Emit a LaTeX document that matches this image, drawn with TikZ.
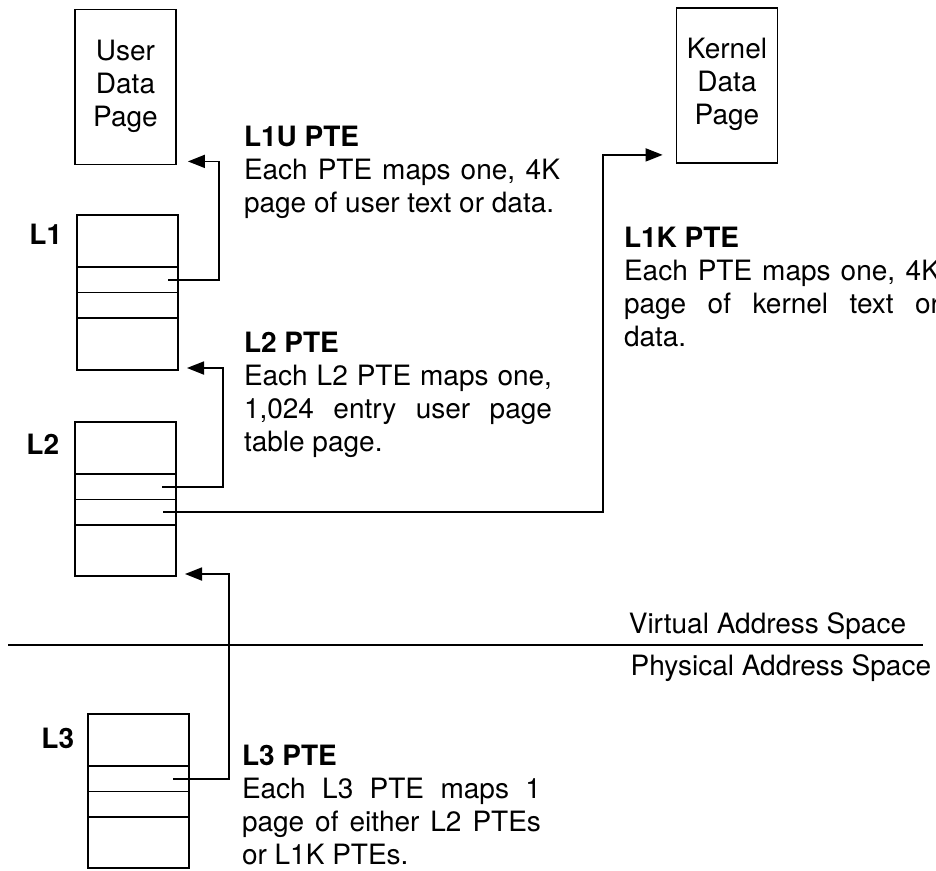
\documentclass[tikz,border=0pt]{standalone}
\usepackage{fontspec}
\setmainfont{TeX Gyre Heros}
\usetikzlibrary{positioning, arrows.meta}

\newcommand{\figfont}{\fontsize{28}{33}\selectfont}

\tikzset{
  slot/.style={draw, minimum width=101pt, inner sep=0pt, outer sep=0pt},
  datapage/.style={draw, minimum width=101pt, minimum height=155pt, align=center, inner sep=0pt},
  note/.style={anchor=north west, inner sep=0pt, outer sep=0pt, align=justify, text width=#1},
  lvl/.style={anchor=north east, inner sep=0pt, font=\figfont\bfseries},
}

\begin{document}
\begin{tikzpicture}[x=1pt,y=-1pt,>={Triangle[length=17pt,width=13pt]},line width=1.8pt,
    every node/.append style={font=\figfont}]
  \useasboundingbox (0,0) rectangle (936,870);

  % data pages
  \node[datapage] (udp) at (125.5,87) {User\\Data\\Page\\[-25pt]};
  \node[datapage] (kdp) at (727,85.5) {Kernel\\Data\\Page\\[-25pt]};

  % page tables
  \node[slot, minimum height=52pt, anchor=north west] (l1a) at (77,215) {};
  \node[slot, minimum height=25.5pt, below=0pt of l1a] (l1b) {};
  \node[slot, minimum height=25.5pt, below=0pt of l1b] (l1c) {};
  \node[slot, minimum height=52pt, below=0pt of l1c] (l1d) {};

  \node[slot, minimum height=52pt, anchor=north west] (l2a) at (75,422) {};
  \node[slot, minimum height=25.5pt, below=0pt of l2a] (l2b) {};
  \node[slot, minimum height=25.5pt, below=0pt of l2b] (l2c) {};
  \node[slot, minimum height=51pt, below=0pt of l2c] (l2d) {};

  \node[slot, minimum height=52pt, anchor=north west] (l3a) at (88,714) {};
  \node[slot, minimum height=25.5pt, below=0pt of l3a] (l3b) {};
  \node[slot, minimum height=25.5pt, below=0pt of l3b] (l3c) {};
  \node[slot, minimum height=51pt, below=0pt of l3c] (l3d) {};

  \node[lvl] (l1lbl) at ([xshift=-14pt,yshift=-8pt]l1a.north west) {L1};
  \node[lvl] (l2lbl) at ([xshift=-15pt,yshift=-11pt]l2a.north west) {L2};
  \node[lvl] (l3lbl) at ([xshift=-13pt,yshift=-13pt]l3a.north west) {L3};

  % descriptions
  \node[note=316pt] (l1unote) at (244,126)
    {\textbf{L1U PTE}\\Each PTE maps one, 4K\linebreak page of user text or data.};
  \node[note=308pt] (l2note) at (244,332)
    {\textbf{L2 PTE}\\Each L2 PTE maps one,\linebreak 1,024 entry user page\linebreak table page.};
  \node[note=316pt] (l1knote) at (624,227)
    {\textbf{L1K PTE}\\Each PTE maps one, 4K\linebreak page of kernel text or\linebreak data.};
  \node[note=299pt] (l3note) at (242,745)
    {\textbf{L3 PTE}\\Each L3 PTE maps 1\linebreak page of either L2 PTEs\linebreak or L1K PTEs.};

  % address spaces
  \draw (8,645) -- (923,645);
  \node[anchor=base east, inner sep=0pt] (vas) at (907,633) {Virtual Address Space};
  \node[anchor=base east, inner sep=0pt] (pas) at (932,675) {Physical Address Space};

  % pointers
  \draw[->] ([xshift=-10pt]l1b.east) -- ++(51,0) |- ([xshift=11pt,yshift=4pt]udp.south east);
  \draw[->] ([xshift=-14pt]l2b.east) -- ++(61,0) |- ([xshift=9pt,yshift=2pt]l1d.south east);
  \draw[->] ([xshift=-13pt]l2c.east) -- ++(440,0) |- ([xshift=-13pt,yshift=9pt]kdp.south west);
  \draw[->] ([xshift=-16pt]l3b.east) -- ++(56,0) |- ([xshift=9pt,yshift=2pt]l2d.south east);
\end{tikzpicture}
\end{document}
